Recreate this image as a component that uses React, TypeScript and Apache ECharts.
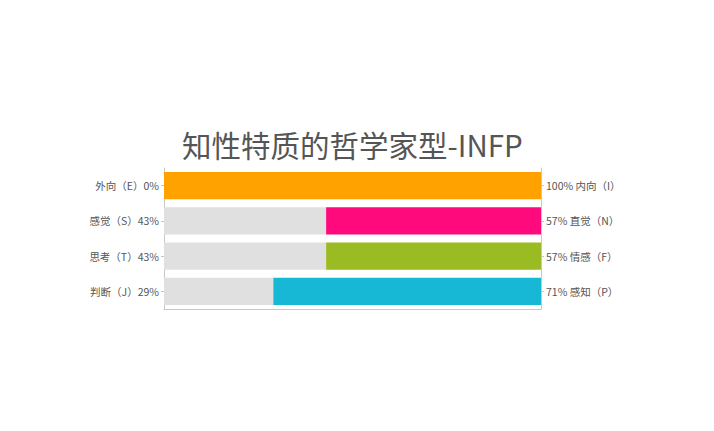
import React, { useEffect, useRef } from 'react';
import * as echarts from 'echarts';

const leftLabels = ['外向（E）0%', '感觉（S）43%', '思考（T）43%', '判断（J）29%'];
const rightLabels = ['100% 内向（I）', '57% 直觉（N）', '57% 情感（F）', '71% 感知（P）'];
const leftValues = [0, 43, 43, 29];
const rightValues = [100, 57, 57, 71];
const rightColors = ['#FFA200', '#FF0A7C', '#9BBB23', '#17B7D6'];

const FONT = '"Noto Sans CJK SC", "Noto Sans", sans-serif';

const App: React.FC = () => {
  const chartRef = useRef<HTMLDivElement>(null);

  useEffect(() => {
    if (!chartRef.current) return;
    const chart = echarts.init(chartRef.current, undefined, { renderer: 'svg' });

    const axisCommon = {
      type: 'category' as const,
      inverse: true,
      axisLine: { show: true, lineStyle: { color: '#c8c8c8' } },
      axisTick: { show: true, alignWithLabel: true, length: 3, lineStyle: { color: '#c8c8c8' } },
      axisLabel: { color: '#555', fontSize: 10.5, fontFamily: FONT, margin: 5 },
      splitLine: { show: false }
    };

    const option: echarts.EChartsOption = {
      animation: false,
      backgroundColor: '#fff',
      title: {
        text: '知性特质的哲学家型-INFP',
        left: 177,
        top: 124,
        textStyle: { color: '#555', fontSize: 29.5, fontWeight: 'normal', fontFamily: FONT }
      },
      grid: { left: 164, right: 173, top: 168, height: 141 },
      xAxis: {
        type: 'value',
        min: 0,
        max: 100,
        axisLine: { show: true, lineStyle: { color: '#c8c8c8' } },
        axisTick: { show: false },
        axisLabel: { show: false },
        splitLine: { show: false }
      },
      yAxis: [
        { ...axisCommon, position: 'left', data: leftLabels },
        { ...axisCommon, position: 'right', data: rightLabels }
      ],
      series: [
        {
          type: 'bar',
          stack: 'total',
          barCategoryGap: '22%',
          data: leftValues,
          itemStyle: { color: '#E0E0E0' }
        },
        {
          type: 'bar',
          stack: 'total',
          barCategoryGap: '22%',
          data: rightValues.map((v, i) => ({ value: v, itemStyle: { color: rightColors[i] } }))
        }
      ]
    };

    chart.setOption(option);
    return () => chart.dispose();
  }, []);

  return (
    <div
      ref={chartRef}
      style={{ position: 'fixed', left: 0, top: 0, width: '714px', height: '431px' }}
    />
  );
};

export default App;
